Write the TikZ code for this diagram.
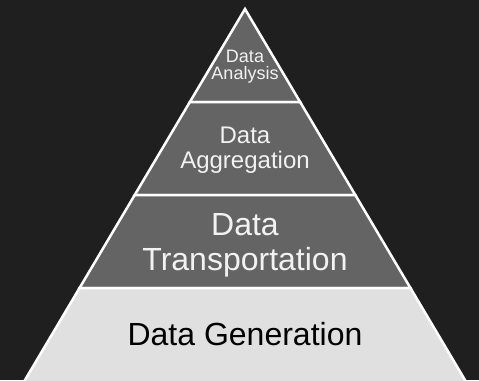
\documentclass[tikz,border=0pt]{standalone}
\usepackage{fontspec}
\setmainfont{Liberation Sans}
\usetikzlibrary{calc}
\definecolor{bgdark}{HTML}{1F1F1F}
\definecolor{layergray}{HTML}{646464}
\definecolor{layerlight}{HTML}{E0E0E0}
\definecolor{textlight}{HTML}{F2F2F2}
\begin{document}
\begin{tikzpicture}[x=1pt,y=-1pt,line width=2.5pt,line join=miter,
  layer/.style={draw=white, fill=layergray},
  label/.style={align=center, inner sep=0pt, text=textlight}]
\fill[bgdark] (0,0) rectangle (479,380);
\useasboundingbox (0,0) rectangle (479,380);
\clip (0,0) rectangle (479,380);
\coordinate (top) at (245,9);
\coordinate (bl) at (24.4,381);
\coordinate (br) at (465.6,381);
\draw[layer] (top) -- ($(top)!0.25!(br)$) -- ($(top)!0.25!(bl)$) -- cycle;
\draw[layer] ($(top)!0.25!(bl)$) -- ($(top)!0.25!(br)$) -- ($(top)!0.5!(br)$) -- ($(top)!0.5!(bl)$) -- cycle;
\draw[layer] ($(top)!0.5!(bl)$) -- ($(top)!0.5!(br)$) -- ($(top)!0.75!(br)$) -- ($(top)!0.75!(bl)$) -- cycle;
\draw[layer, fill=layerlight] ($(top)!0.75!(bl)$) -- ($(top)!0.75!(br)$) -- ($(top)!1.03!(br)$) -- ($(top)!1.03!(bl)$) -- cycle;
\draw (245, 66.9) node[label, font=\fontsize{18}{17}\selectfont] (analysis) {Data\\Analysis};
\draw (245, 150.4) node[label, font=\fontsize{24}{25.3}\selectfont] (aggregation) {Data\\Aggregation};
\draw (245, 245.3) node[label, font=\fontsize{32}{35}\selectfont] (transport) {Data\\Transportation};
\draw (245, 334.3) node[label, text=black, font=\fontsize{32}{35}\selectfont] (generation) {Data Generation};
\end{tikzpicture}
\end{document}
